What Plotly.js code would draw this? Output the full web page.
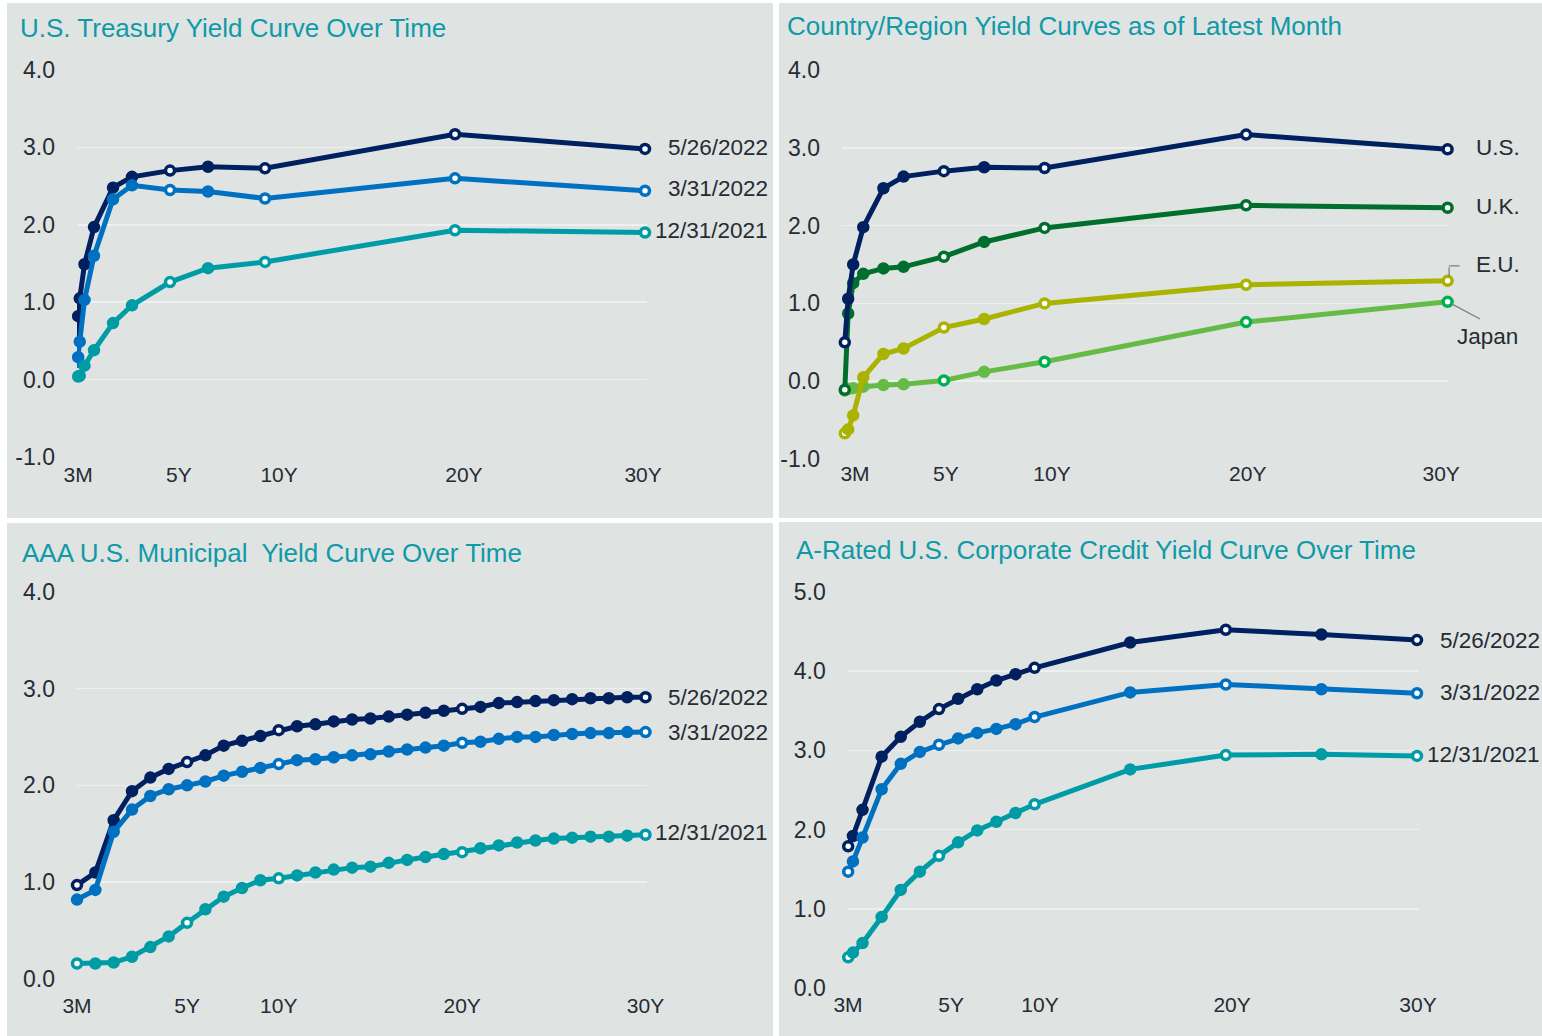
<!DOCTYPE html>
<html>
<head>
<meta charset="utf-8">
<script src="https://cdn.plot.ly/plotly-3.0.1.min.js"></script>
<style>
  html, body { margin: 0; padding: 0; background: #ffffff; }
  #chart { width: 1542px; height: 1036px; }
</style>
</head>
<body>
<div id="chart"></div>
<script>
// ---------------- DATA ----------------
// Panel 1: U.S. Treasury yield curve over time
const tsyTenorYears  = [1/12, 2/12, 0.25, 0.5, 1, 2, 3, 5, 7, 10, 20, 30];
const tsyTenorLabels = ['1M','2M','3M','6M','1Y','2Y','3Y','5Y','7Y','10Y','20Y','30Y'];
const tsy_2022_05_26 = [0.48, 0.82, 1.05, 1.49, 1.97, 2.48, 2.62, 2.70, 2.75, 2.73, 3.17, 2.98];
const tsy_2022_03_31 = [0.15, 0.29, 0.49, 1.03, 1.60, 2.33, 2.51, 2.45, 2.43, 2.34, 2.60, 2.44];
const tsy_2021_12_31 = [0.03, 0.04, 0.05, 0.18, 0.38, 0.73, 0.96, 1.26, 1.44, 1.52, 1.93, 1.90];

// Panel 2: Country / region yield curves
const ctyTenorYears  = [1/12, 0.25, 0.5, 1, 2, 3, 5, 7, 10, 20, 30];
const ctyTenorLabels = ['1M','3M','6M','1Y','2Y','3Y','5Y','7Y','10Y','20Y','30Y'];
const ctyUS    = [0.50, 1.06, 1.50, 1.98, 2.48, 2.63, 2.70, 2.75, 2.74, 3.17, 2.98];
const ctyUK    = [-0.11, 0.87, 1.26, 1.38, 1.45, 1.47, 1.60, 1.79, 1.97, 2.26, 2.23];
const ctyEU    = [-0.67, -0.62, -0.44, 0.05, 0.35, 0.42, 0.69, 0.80, 1.00, 1.24, 1.29];
const ctyJapan = [-0.12, -0.10, -0.09, -0.07, -0.05, -0.04, 0.01, 0.12, 0.25, 0.76, 1.02];

// Panel 3: AAA municipal yield curve over time (evenly spaced tenors)
const muniTenors = ['3M','6M','1Y','2Y','3Y','4Y','5Y','6Y','7Y','8Y','9Y','10Y','11Y','12Y','13Y','14Y',
                    '15Y','16Y','17Y','18Y','19Y','20Y','21Y','22Y','23Y','24Y','25Y','26Y','27Y','28Y','29Y','30Y'];
const muni_2022_05_26 = [0.97, 1.10, 1.64, 1.94, 2.08, 2.17, 2.24, 2.31, 2.41, 2.46, 2.51, 2.57, 2.61, 2.63, 2.66, 2.68,
                         2.69, 2.71, 2.73, 2.75, 2.77, 2.79, 2.81, 2.85, 2.86, 2.87, 2.88, 2.89, 2.90, 2.90, 2.91, 2.91];
const muni_2022_03_31 = [0.82, 0.92, 1.52, 1.75, 1.89, 1.96, 2.00, 2.04, 2.10, 2.14, 2.18, 2.22, 2.26, 2.27, 2.29, 2.31,
                         2.32, 2.35, 2.37, 2.39, 2.41, 2.44, 2.45, 2.48, 2.50, 2.50, 2.52, 2.53, 2.54, 2.54, 2.55, 2.55];
const muni_2021_12_31 = [0.16, 0.16, 0.17, 0.23, 0.33, 0.44, 0.58, 0.72, 0.85, 0.94, 1.02, 1.04, 1.07, 1.10, 1.13, 1.15,
                         1.16, 1.20, 1.23, 1.26, 1.29, 1.31, 1.35, 1.38, 1.41, 1.43, 1.45, 1.46, 1.47, 1.47, 1.48, 1.49];

// Panel 4: A-rated corporate credit yield curve over time
const corpTenorYears  = [0.25, 0.5, 1, 2, 3, 4, 5, 6, 7, 8, 9, 10, 15, 20, 25, 30];
const corpTenorLabels = ['3M','6M','1Y','2Y','3Y','4Y','5Y','6Y','7Y','8Y','9Y','10Y','15Y','20Y','25Y','30Y'];
const corp_2022_05_26 = [1.79, 1.92, 2.25, 2.92, 3.17, 3.36, 3.52, 3.65, 3.77, 3.88, 3.96, 4.04, 4.36, 4.52, 4.46, 4.39];
const corp_2022_03_31 = [1.47, 1.60, 1.90, 2.51, 2.83, 2.98, 3.07, 3.15, 3.22, 3.27, 3.33, 3.42, 3.73, 3.83, 3.77, 3.72];
const corp_2021_12_31 = [0.39, 0.45, 0.57, 0.90, 1.24, 1.47, 1.67, 1.84, 1.99, 2.10, 2.21, 2.32, 2.76, 2.94, 2.95, 2.93];

// Tick labels
const xTickText = ['3M', '5Y', '10Y', '20Y', '30Y'];
const tsyTickPos  = [0.16, 5.47, 10.74, 20.47, 29.9];   // years, as placed in the original
const ctyTickPos  = [0.59, 5.1, 10.37, 20.08, 29.68];
const corpTickPos = [0.24, 5.63, 10.28, 20.33, 30.05];
const muniTickCats = ['3M', '5Y', '10Y', '20Y', '30Y'];
const yTicks4 = [-1, 0, 1, 2, 3, 4];
const yTicks4pos = [0, 1, 2, 3, 4];
const yTicks5 = [0, 1, 2, 3, 4, 5];

// Series names
const dateNames = ['5/26/2022', '3/31/2022', '12/31/2021'];
const countryNames = ['U.S.', 'U.K.', 'E.U.', 'Japan'];

// ---------------- STYLE ----------------
const W = 1542, H = 1036;
const fx = px => px / W;
const fy = py => 1 - py / H;
const FONT = 'Arial, "Liberation Sans", Helvetica, sans-serif';
const C_NAVY = '#002060', C_BLUE = '#0070c0', C_TEAL = '#009ca6';
const C_UK = '#006f2e', C_EU = '#a9b300', C_JP = '#66bb46', C_JP_OPEN = '#00b050';
const TITLE_COLOR = '#0f9aa8';
const TEXT_COLOR = '#262c33';
const PANEL_BG = '#dfe3e2';
const GRID = '#eef0f0';
const LEADER = '#7f7f7f';
const keyOpen = ['first', '5Y', '10Y', '20Y', '30Y'];

function series(xa, ya, xs, ys, labels, color, openSet, openLineColor) {
  const isOpen = labels.map((l, i) => openSet.includes(l) || (i === 0 && openSet.includes('first')));
  return {
    type: 'scatter', mode: 'lines+markers', xaxis: xa, yaxis: ya,
    x: xs, y: ys, cliponaxis: false, hoverinfo: 'x+y',
    line: { color: color, width: 5 },
    marker: {
      size: 9,
      color: isOpen.map(o => o ? '#ffffff' : color),
      line: { width: 3.5, color: isOpen.map(o => o ? (openLineColor || color) : color) }
    }
  };
}

const traces = [
  // Panel 1
  series('x', 'y', tsyTenorYears, tsy_2022_05_26, tsyTenorLabels, C_NAVY, keyOpen),
  series('x', 'y', tsyTenorYears, tsy_2022_03_31, tsyTenorLabels, C_BLUE, keyOpen),
  series('x', 'y', tsyTenorYears, tsy_2021_12_31, tsyTenorLabels, C_TEAL, keyOpen),
  // Panel 2 (Japan at the bottom, U.S. on top)
  series('x2', 'y2', ctyTenorYears, ctyJapan, ctyTenorLabels, C_JP, ['5Y', '10Y', '20Y', '30Y'], C_JP_OPEN),
  series('x2', 'y2', ctyTenorYears, ctyEU, ctyTenorLabels, C_EU, keyOpen),
  series('x2', 'y2', ctyTenorYears, ctyUK, ctyTenorLabels, C_UK, keyOpen),
  series('x2', 'y2', ctyTenorYears, ctyUS, ctyTenorLabels, C_NAVY, keyOpen),
  // Panel 3
  series('x3', 'y3', muniTenors, muni_2022_05_26, muniTenors, C_NAVY, keyOpen),
  series('x3', 'y3', muniTenors, muni_2022_03_31, muniTenors, C_BLUE, ['10Y', '20Y', '30Y']),
  series('x3', 'y3', muniTenors, muni_2021_12_31, muniTenors, C_TEAL, keyOpen),
  // Panel 4
  series('x4', 'y4', corpTenorYears, corp_2022_05_26, corpTenorLabels, C_NAVY, keyOpen),
  series('x4', 'y4', corpTenorYears, corp_2022_03_31, corpTenorLabels, C_BLUE, keyOpen),
  series('x4', 'y4', corpTenorYears, corp_2021_12_31, corpTenorLabels, C_TEAL, keyOpen)
];

function xAxis(domPx, range, tickvals, extra) {
  return Object.assign({
    domain: [fx(domPx[0]), fx(domPx[1])], range: range, showgrid: false, zeroline: false,
    showline: false, ticks: '', tickmode: 'array', tickvals: tickvals, ticktext: xTickText,
    tickfont: { family: FONT, size: 21, color: TEXT_COLOR }, ticklabelstandoff: 3, fixedrange: true
  }, extra || {});
}
function yAxis(domPx, range, ticks, extra) {
  return Object.assign({
    domain: [fy(domPx[1]), fy(domPx[0])], range: range, showgrid: true, gridcolor: GRID, gridwidth: 1.5,
    zeroline: false, showline: false, ticks: '', tickmode: 'array', tickvals: ticks,
    ticktext: ticks.map(v => v.toFixed(1)),
    tickfont: { family: FONT, size: 23, color: TEXT_COLOR }, ticklabelstandoff: 21, fixedrange: true
  }, extra || {});
}

const layout = {
  width: W, height: H, margin: { l: 0, r: 0, t: 0, b: 0 },
  paper_bgcolor: '#ffffff', plot_bgcolor: 'rgba(0,0,0,0)', showlegend: false,
  font: { family: FONT, color: TEXT_COLOR },
  xaxis:  xAxis([77, 647], [0.105, 30.105], tsyTickPos, { anchor: 'y' }),
  yaxis:  yAxis([70, 457], [-1, 4], yTicks4, { anchor: 'x' }),
  xaxis2: xAxis([842, 1448], [-0.055, 30.02], ctyTickPos, { anchor: 'y2', ticklabelstandoff: 0 }),
  yaxis2: yAxis([70, 459], [-1, 4], yTicks4, { anchor: 'x2' }),
  xaxis3: xAxis([77, 647], [0, 31.08], muniTickCats, { anchor: 'y3', type: 'category', ticklabelstandoff: 12 }),
  yaxis3: yAxis([591.7, 979], [0, 4], yTicks4pos, { anchor: 'x3' }),
  xaxis4: xAxis([847.8, 1419.2], [0.23, 30.115], corpTickPos, { anchor: 'y4', ticklabelstandoff: 2 }),
  yaxis4: yAxis([591.7, 988.3], [0, 5], yTicks5, { anchor: 'x4' }),
  shapes: [],
  annotations: []
};

// Panel backgrounds
[[7, 3, 773, 518], [779, 3, 1542, 518], [7, 523, 773, 1036], [779, 522, 1542, 1036]].forEach(r => {
  layout.shapes.push({ type: 'rect', xref: 'paper', yref: 'paper', layer: 'below',
    x0: fx(r[0]), x1: fx(r[2]), y0: fy(r[3]), y1: fy(r[1]), fillcolor: PANEL_BG, line: { width: 0 } });
});

// Titles
const titles = [
  ['U.S. Treasury Yield Curve Over Time', 17.5, 28],
  ['Country/Region Yield Curves as of Latest Month', 784.5, 26],
  ['AAA U.S. Municipal  Yield Curve Over Time', 19.5, 553],
  ['A-Rated U.S. Corporate Credit Yield Curve Over Time', 793.5, 550]
];
titles.forEach(t => layout.annotations.push({
  xref: 'paper', yref: 'paper', x: fx(t[1]), y: fy(t[2]), xanchor: 'left', yanchor: 'middle',
  text: t[0], showarrow: false, font: { family: FONT, size: 26, color: TITLE_COLOR }
}));

// End labels for the series
function endLabel(xa, ya, xs, ys, text, xshift, yshift, anchor) {
  layout.annotations.push({
    xref: xa, yref: ya, x: xs[xs.length - 1], y: ys[ys.length - 1], text: text,
    xanchor: anchor || 'right', yanchor: 'middle', xshift: xshift, yshift: yshift || 0,
    showarrow: false, font: { family: FONT, size: 22.5, color: TEXT_COLOR }
  });
}
endLabel('x', 'y', tsyTenorYears, tsy_2022_05_26, dateNames[0], 125, 1);
endLabel('x', 'y', tsyTenorYears, tsy_2022_03_31, dateNames[1], 125, 2);
endLabel('x', 'y', tsyTenorYears, tsy_2021_12_31, dateNames[2], 125, 2);
endLabel('x3', 'y3', [muniTenors.length - 1], muni_2022_05_26, dateNames[0], 124, 0);
endLabel('x3', 'y3', [muniTenors.length - 1], muni_2022_03_31, dateNames[1], 124, 0);
endLabel('x3', 'y3', [muniTenors.length - 1], muni_2021_12_31, dateNames[2], 124, 2);
endLabel('x4', 'y4', corpTenorYears, corp_2022_05_26, dateNames[0], 125, 0);
endLabel('x4', 'y4', corpTenorYears, corp_2022_03_31, dateNames[1], 125, 1);
endLabel('x4', 'y4', corpTenorYears, corp_2021_12_31, dateNames[2], 125, 1);
endLabel('x2', 'y2', ctyTenorYears, ctyUS, countryNames[0], 26, 2, 'left');
endLabel('x2', 'y2', ctyTenorYears, ctyUK, countryNames[1], 26, 1, 'left');
endLabel('x2', 'y2', ctyTenorYears, ctyEU, countryNames[2], 26, 16, 'left');
endLabel('x2', 'y2', ctyTenorYears, ctyJapan, countryNames[3], 40, -35, 'center');

// Leader lines, drawn as text-less annotation arrows (not clipped to the plot area).
// (xs, ys): pixel shift of the arrow head from the point; (ax, ay): tail offset from head (px, y down).
const lastCty = ctyTenorYears[ctyTenorYears.length - 1];
function leader(yVal, xs, ys, ax, ay) {
  layout.annotations.push({
    xref: 'x2', yref: 'y2', x: lastCty, y: yVal, xshift: xs, yshift: ys, text: '',
    showarrow: true, arrowhead: 0, arrowwidth: 1.3, arrowcolor: LEADER, ax: ax, ay: ay,
    standoff: 0, startstandoff: 0, font: { size: 1 }
  });
}
leader(ctyEU[ctyEU.length - 1], 1.5, 4, 0, -11);
leader(ctyEU[ctyEU.length - 1], 1.5, 15, 12, 0);
leader(ctyJapan[ctyJapan.length - 1], 4, -2, 30, 16);

Plotly.newPlot('chart', traces, layout, { staticPlot: true, displayModeBar: false });
</script>
</body>
</html>
